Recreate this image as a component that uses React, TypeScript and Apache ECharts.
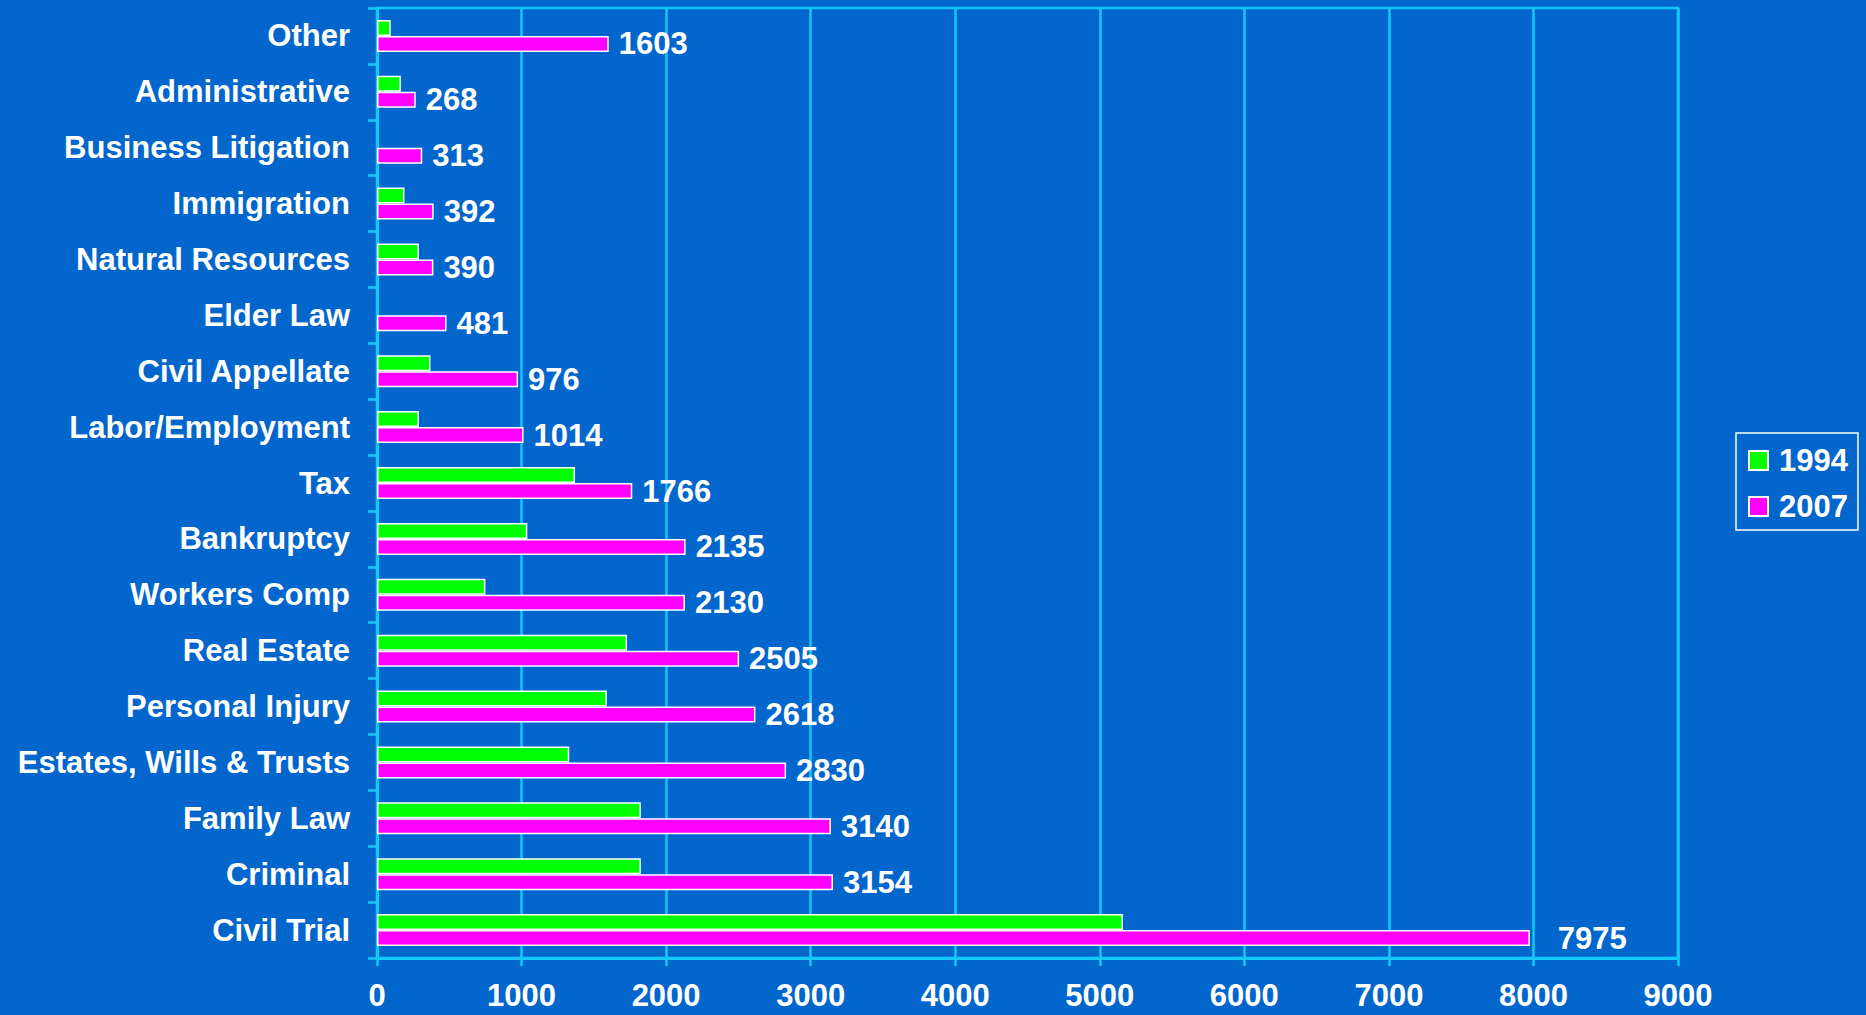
import React, { useEffect, useRef } from "react";
import * as echarts from "echarts";

const categories = [
  "Other",
  "Administrative",
  "Business Litigation",
  "Immigration",
  "Natural Resources",
  "Elder Law",
  "Civil Appellate",
  "Labor/Employment",
  "Tax",
  "Bankruptcy",
  "Workers Comp",
  "Real Estate",
  "Personal Injury",
  "Estates, Wills & Trusts",
  "Family Law",
  "Criminal",
  "Civil Trial",
];

const values1994: (number | null)[] = [
  95, 165, null, 190, 290, null, 370, 290, 1370, 1040, 750, 1730, 1590, 1330, 1825, 1825, 5160,
];

const values2007: number[] = [
  1603, 268, 313, 392, 390, 481, 976, 1014, 1766, 2135, 2130, 2505, 2618, 2830, 3140, 3154, 7975,
];

const xTicks = [0, 1000, 2000, 3000, 4000, 5000, 6000, 7000, 8000, 9000];

const BG = "#0366CC";
const CYAN = "#14C8F8";
const FONT = "'Liberation Sans', Arial, Helvetica, sans-serif";
const FS = 31;

export default function App() {
  const ref = useRef<HTMLDivElement>(null);

  useEffect(() => {
    document.body.style.margin = "0";
    document.body.style.overflow = "hidden";
    if (!ref.current) return;
    const chart = echarts.init(ref.current, null, { renderer: "svg" });

    const data2007 = values2007.map((v, i) =>
      i === values2007.length - 1 ? { value: v, label: { distance: 28 } } : v
    );

    chart.setOption({
      animation: false,
      backgroundColor: BG,
      textStyle: { fontFamily: FONT },
      grid: {
        left: 377,
        right: 188,
        top: 8,
        bottom: 57,
        show: true,
        borderColor: CYAN,
        borderWidth: 2.5,
        backgroundColor: "transparent",
        containLabel: false,
      },
      legend: {
        orient: "vertical",
        left: 1736,
        top: 433,
        data: ["1994", "2007"],
        icon: "rect",
        itemWidth: 19,
        itemHeight: 19,
        itemGap: 15,
        padding: [12, 10, 8, 12],
        borderColor: "#FFFFFF",
        borderWidth: 1.5,
        textStyle: {
          color: "#FFFFFF",
          fontFamily: FONT,
          fontWeight: "bold",
          fontSize: FS,
          lineHeight: 31,
          padding: [0, 0, 0, 6],
        },
      },
      xAxis: {
        type: "value",
        min: xTicks[0],
        max: xTicks[xTicks.length - 1],
        interval: 1000,
        axisLine: { show: true, lineStyle: { color: CYAN, width: 3 } },
        axisTick: { show: true, length: 8, lineStyle: { color: CYAN, width: 2.5 } },
        splitLine: { show: true, lineStyle: { color: CYAN, width: 2.5 } },
        axisLabel: {
          color: "#FFFFFF",
          fontFamily: FONT,
          fontWeight: "bold",
          fontSize: FS,
          margin: 22,
          formatter: (v: number) => String(v),
        },
      },
      yAxis: {
        type: "category",
        inverse: true,
        data: categories,
        axisLine: { show: true, lineStyle: { color: CYAN, width: 3 } },
        axisTick: { show: true, length: 9, lineStyle: { color: CYAN, width: 2.5 } },
        splitLine: { show: false },
        axisLabel: {
          color: "#FFFFFF",
          fontFamily: FONT,
          fontWeight: "bold",
          fontSize: FS,
          margin: 27,
        },
      },
      series: [
        {
          name: "1994",
          type: "bar",
          data: values1994,
          barWidth: 16,
          barGap: "0%",
          itemStyle: { color: "#00FF00", borderColor: "#FFFFFF", borderWidth: 1.5 },
        },
        {
          name: "2007",
          type: "bar",
          data: data2007,
          barWidth: 16,
          barGap: "0%",
          itemStyle: { color: "#FF00FF", borderColor: "#FFFFFF", borderWidth: 1.5 },
          label: {
            show: true,
            position: "right",
            distance: 10,
            color: "#FFFFFF",
            fontFamily: FONT,
            fontWeight: "bold",
            fontSize: FS,
          },
        },
      ],
    });

    return () => chart.dispose();
  }, []);

  return (
    <div
      ref={ref}
      style={{ position: "absolute", left: 0, top: 0, width: "1866px", height: "1015px" }}
    />
  );
}
